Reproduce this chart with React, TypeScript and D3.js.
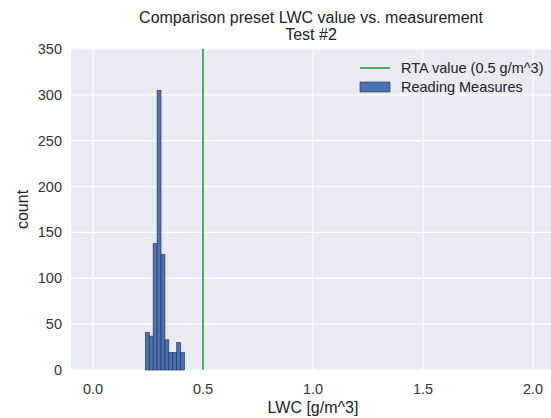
import React from "react";
import * as d3 from "d3";

const binStart = 0.2377;
const binWidth = 0.01786;
const counts = [41, 37, 138, 305, 126, 33, 19, 19, 30, 19];
const rtaValue = 0.5;
const xTicks = [0.0, 0.5, 1.0, 1.5, 2.0];
const yTicks = [0, 50, 100, 150, 200, 250, 300, 350];
const titleLines = ["Comparison preset LWC value vs. measurement", "Test #2"];
const legendLabels = ["RTA value (0.5 g/m^3)", "Reading Measures"];

export default function App() {
  const W = 551, H = 418;
  const left = 71, right = 555, top = 49, bottom = 370;
  const x = d3.scaleLinear().domain([-0.1, 2.1]).range([left, right]);
  const y = d3.scaleLinear().domain([0, 350]).range([bottom, top]);
  const font = "'Liberation Sans', Arial, sans-serif";
  const bins = counts.map((c, i) => ({ x0: binStart + i * binWidth, x1: binStart + (i + 1) * binWidth, c }));
  return (
    <svg width={W} height={H} style={{ position: "absolute", left: 0, top: 0 }} fontFamily={font}>
      <rect x={0} y={0} width={W} height={H} fill="#fff" />
      <rect x={left} y={top} width={right - left} height={bottom - top} fill="#EAEAF2" />
      {xTicks.map(t => (
        <line key={"gx" + t} x1={x(t)} x2={x(t)} y1={top} y2={bottom} stroke="#fff" strokeWidth={1.2} />
      ))}
      {yTicks.map(t => (
        <line key={"gy" + t} x1={left} x2={right} y1={y(t)} y2={y(t)} stroke="#fff" strokeWidth={1.2} />
      ))}
      {bins.map((b, i) => (
        <rect key={i} x={x(b.x0)} y={y(b.c)} width={x(b.x1) - x(b.x0)} height={y(0) - y(b.c)}
          fill="#4C72B0" stroke="#1f2f55" strokeWidth={0.6} />
      ))}
      <line x1={x(rtaValue)} x2={x(rtaValue)} y1={top} y2={bottom} stroke="#55A868" strokeWidth={2} />
      {xTicks.map(t => (
        <text key={"tx" + t} x={x(t)} y={394} textAnchor="middle" fontSize={14.5} fill="#333">{t.toFixed(1)}</text>
      ))}
      {yTicks.map(t => (
        <text key={"ty" + t} x={62} y={y(t) + 5} textAnchor="end" fontSize={14.5} fill="#333">{t}</text>
      ))}
      <text x={313} y={413} textAnchor="middle" fontSize={16} fill="#222">LWC [g/m^3]</text>
      <text transform={`translate(28,${(top + bottom) / 2}) rotate(-90)`} textAnchor="middle" fontSize={16} fill="#222">count</text>
      <text x={311} y={23} textAnchor="middle" fontSize={16} fill="#222">{titleLines[0]}</text>
      <text x={311} y={40} textAnchor="middle" fontSize={16} fill="#222">{titleLines[1]}</text>
      <line x1={360} x2={390} y1={68} y2={68} stroke="#55A868" strokeWidth={2} />
      <text x={401} y={73} fontSize={14.5} fill="#222">{legendLabels[0]}</text>
      <rect x={360} y={82} width={30} height={10} fill="#4C72B0" stroke="#1f2f55" strokeWidth={0.6} />
      <text x={401} y={92} fontSize={14.5} fill="#222">{legendLabels[1]}</text>
    </svg>
  );
}
